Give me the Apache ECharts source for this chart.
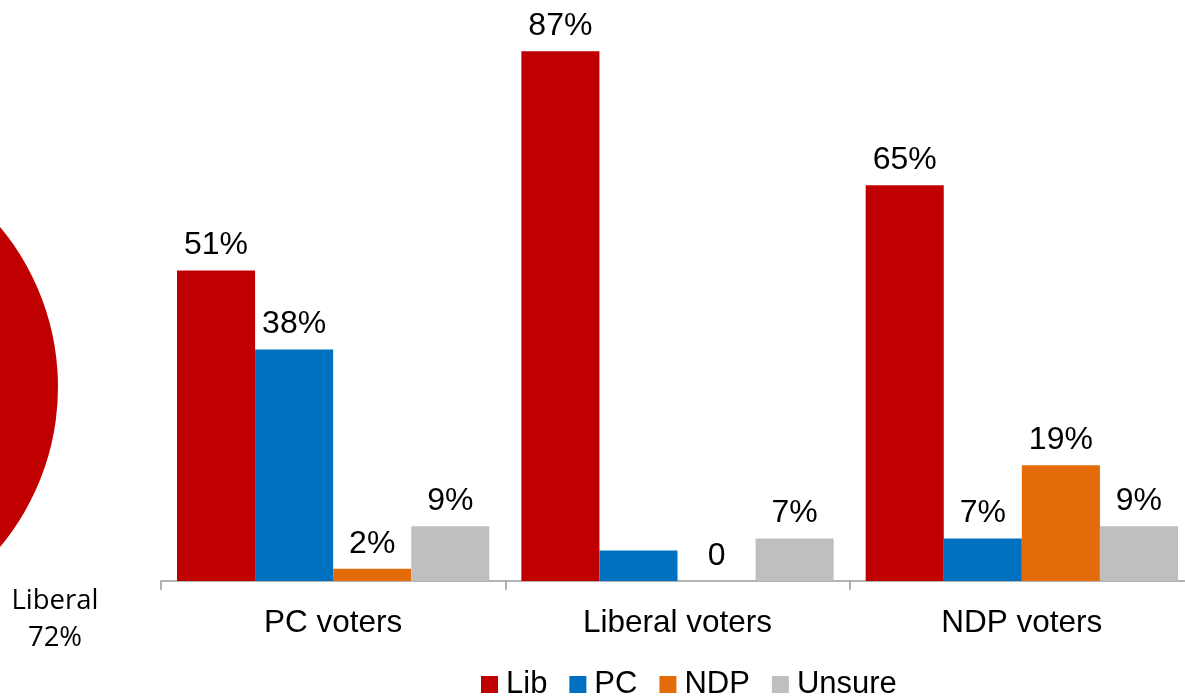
<!DOCTYPE html>
<html><head><meta charset="utf-8">
<script src="https://cdn.jsdelivr.net/npm/echarts@6/dist/echarts.min.js"></script>
<style>html,body{margin:0;padding:0;background:#fff;overflow:hidden}#c{width:1200px;height:697px}</style>
</head><body><div id="c"></div>
<script>
const categories = ['PC voters', 'Liberal voters', 'NDP voters'];
const seriesNames = ['Lib', 'PC', 'NDP', 'Unsure'];
const libValues = [51, 87, 65];
const pcValues = [38, 5, 7];
const ndpValues = [2, 0, 19];
const unsureValues = [9, 7, 9];
const hiddenLabels = [[], [1], [], []]; // PC label not shown for Liberal voters
const pieNames = ['Liberal', 'Other'];
const pieValues = [72, 28];
const colors = ['#C00000', '#0070C0', '#E36C09', '#BFBFBF'];

const chart = echarts.init(document.getElementById('c'));
const all = [libValues, pcValues, ndpValues, unsureValues];
const font = '"Liberation Sans", Arial, sans-serif';

const barSeries = all.map((vals, si) => ({
  name: seriesNames[si],
  type: 'bar',
  barGap: '0%',
  barCategoryGap: '9.3%',
  itemStyle: { color: colors[si] },
  label: {
    show: true, position: 'top', distance: 9,
    fontFamily: font, fontSize: 32, color: '#000',
    formatter: p => (p.value === 0 ? '0' : p.value + '%')
  },
  data: vals.map((v, i) => hiddenLabels[si].includes(i) ? { value: v, label: { show: false } } : v)
}));

chart.setOption({
  animation: false,
  backgroundColor: '#fff',
  title: {
    text: pieNames[0] + '\n' + pieValues[0] + '%',
    left: 50, top: 578, textAlign: 'center',
    textStyle: { fontFamily: '"Open Sans", "Noto Sans", sans-serif', fontSize: 27.5, fontWeight: 'normal', color: '#000', lineHeight: 37 }
  },
  legend: {
    data: seriesNames,
    left: 476, top: 664,
    itemWidth: 17, itemHeight: 17, itemGap: 22,
    icon: 'rect',
    textStyle: { fontFamily: font, fontSize: 31, color: '#000', padding: [0, 0, 0, 3] }
  },
  grid: { left: 161, right: 6, top: 33, height: 548 },
  xAxis: {
    type: 'category', data: categories,
    axisLine: { lineStyle: { color: '#999', width: 1.5 } },
    axisTick: { show: true, length: 9, lineStyle: { color: '#999', width: 1.5 } },
    axisLabel: { fontFamily: font, fontSize: 31.5, color: '#000', margin: 26 }
  },
  yAxis: { type: 'value', min: 0, max: 90, show: false, splitLine: { show: false } },
  series: [
    ...barSeries,
    {
      type: 'pie',
      center: [-192, 387], radius: 250,
      startAngle: 150, clockwise: true,
      silent: true,
      label: { show: false },
      labelLine: { show: false },
      data: pieValues.map((v, i) => ({
        name: pieNames[i], value: v,
        itemStyle: { color: i === 0 ? '#C00000' : '#7F7F7F' }
      }))
    }
  ]
});
</script></body></html>
